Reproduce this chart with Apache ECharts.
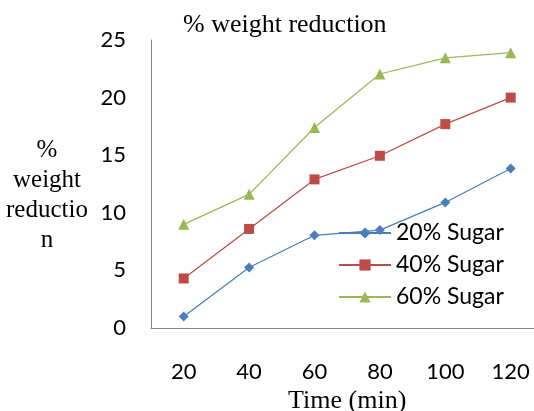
<!DOCTYPE html>
<html>
<head>
<meta charset="utf-8">
<script src="https://cdn.jsdelivr.net/npm/echarts@6/dist/echarts.min.js"></script>
<style>html,body{margin:0;padding:0;background:#fff}#c{width:534px;height:411px}</style>
</head>
<body>
<div id="c"></div>
<script>
const categories = ['20', '40', '60', '80', '100', '120'];
const sugar20 = [1.0, 5.25, 8.05, 8.5, 10.9, 13.85];
const sugar40 = [4.3, 8.6, 12.9, 14.95, 17.7, 20.0];
const sugar60 = [9.0, 11.6, 17.4, 22.05, 23.45, 23.9];
const yTicks = { min: 0, max: 25, interval: 5 };

const chart = echarts.init(document.getElementById('c'));
const serif = 'Liberation Serif';
const sans = 'Lato';
chart.setOption({
  animation: false,
  title: {
    text: '% weight reduction',
    left: 183, top: 12, padding: 0,
    textStyle: { fontFamily: serif, fontSize: 26, fontWeight: 'normal', color: '#000' }
  },
  graphic: [{
    type: 'text',
    position: [47, 195],
    style: {
      text: '%\nweight\nreductio\nn',
      x: 0, y: 0,
      align: 'center', verticalAlign: 'middle',
      font: '25px "Liberation Serif"',
      lineHeight: 30,
      fill: '#000'
    }
  }],
  legend: {
    orient: 'vertical',
    left: 338, top: 221, padding: 0,
    itemWidth: 52, itemHeight: 14, itemGap: 8,
    textStyle: { fontFamily: sans, fontSize: 23, color: '#000', lineHeight: 24 },
    data: ['20% Sugar', '40% Sugar', '60% Sugar']
  },
  grid: { left: 151, top: 40, right: -9.4, bottom: 83, outerBoundsMode: 'none' },
  xAxis: {
    type: 'category', data: categories, boundaryGap: true,
    axisLine: { lineStyle: { color: '#868686', width: 1 } },
    axisTick: { show: false },
    axisLabel: { margin: 33, fontFamily: sans, fontSize: 22, color: '#000' },
    name: 'Time (min)', nameLocation: 'middle', nameGap: 60,
    nameTextStyle: { fontFamily: serif, fontSize: 26, color: '#000' }
  },
  yAxis: {
    type: 'value', min: yTicks.min, max: yTicks.max, interval: yTicks.interval,
    axisLine: { show: true, lineStyle: { color: '#868686', width: 1 } },
    axisTick: { show: false },
    splitLine: { show: false },
    axisLabel: { margin: 25, fontFamily: sans, fontSize: 22, color: '#000' }
  },
  series: [
    { name: '20% Sugar', type: 'line', data: sugar20, symbol: 'diamond', symbolSize: 10,
      itemStyle: { color: '#4a7ebb' }, lineStyle: { color: '#4a7ebb', width: 1.25 } },
    { name: '40% Sugar', type: 'line', data: sugar40, symbol: 'rect', symbolSize: 10,
      itemStyle: { color: '#be4b48' }, lineStyle: { color: '#be4b48', width: 1.25 } },
    { name: '60% Sugar', type: 'line', data: sugar60, symbol: 'triangle', symbolSize: 11,
      itemStyle: { color: '#98b954' }, lineStyle: { color: '#98b954', width: 1.25 } }
  ]
});
</script>
</body>
</html>
